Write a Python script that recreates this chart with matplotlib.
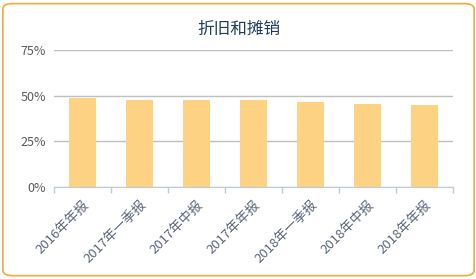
import matplotlib.pyplot as plt
from matplotlib.patches import FancyBboxPatch
from matplotlib.ticker import FixedLocator, FuncFormatter

plt.rcParams['font.family'] = ['Noto Sans CJK SC', 'DejaVu Sans']

categories = ["2016年年报", "2017年一季报", "2017年中报", "2017年年报",
              "2018年一季报", "2018年中报", "2018年年报"]
values = [0.489, 0.474, 0.474, 0.474, 0.463, 0.456, 0.451]
title = "折旧和摊销"

fig = plt.figure(figsize=(4.77, 2.79), dpi=100)

# chart frame, kept behind the axes
frame = FancyBboxPatch((0.006, 0.012), 0.988, 0.975,
                       boxstyle="round,pad=0,rounding_size=0.02",
                       transform=fig.transFigure, facecolor="white",
                       edgecolor="#F2A83B", linewidth=1.2, zorder=-1)
fig.patches.append(frame)

ax = fig.add_axes([0.1132, 0.3297, 0.8365, 0.4911])
ax.set_facecolor("none")

x = range(len(categories))
ax.bar(x, values, width=0.46, color="#FDD283", zorder=3)

ax.set_xlim(-0.5, len(categories) - 0.5)
ax.set_ylim(0, 0.75)
ax.set_yticks([0, 0.25, 0.5, 0.75])
ax.yaxis.set_major_formatter(FuncFormatter(lambda v, p: f"{v * 100:.0f}%"))
ax.grid(axis="y", color="#BFBFBF", linewidth=1, zorder=0)

ax.set_xticks(list(x))
ax.set_xticklabels(categories, rotation=45, ha="right",
                   rotation_mode="anchor", fontsize=9.5, color="#5A6478")
ax.xaxis.set_minor_locator(FixedLocator([i - 0.5 for i in range(len(categories) + 1)]))
ax.tick_params(axis="x", which="major", length=0, pad=8)
ax.tick_params(axis="x", which="minor", length=4, color="#BFCBDA", width=1)
ax.tick_params(axis="y", length=0, labelsize=9, labelcolor="#595959", pad=6)

for side in ["top", "right", "left"]:
    ax.spines[side].set_visible(False)
ax.spines["bottom"].set_color("#BFCBDA")
ax.spines["bottom"].set_zorder(4)

fig.text(0.5, 0.895, title, ha="center", va="center", fontsize=12,
         color="#1F3B5E")

fig.savefig("out.png", dpi=100)
